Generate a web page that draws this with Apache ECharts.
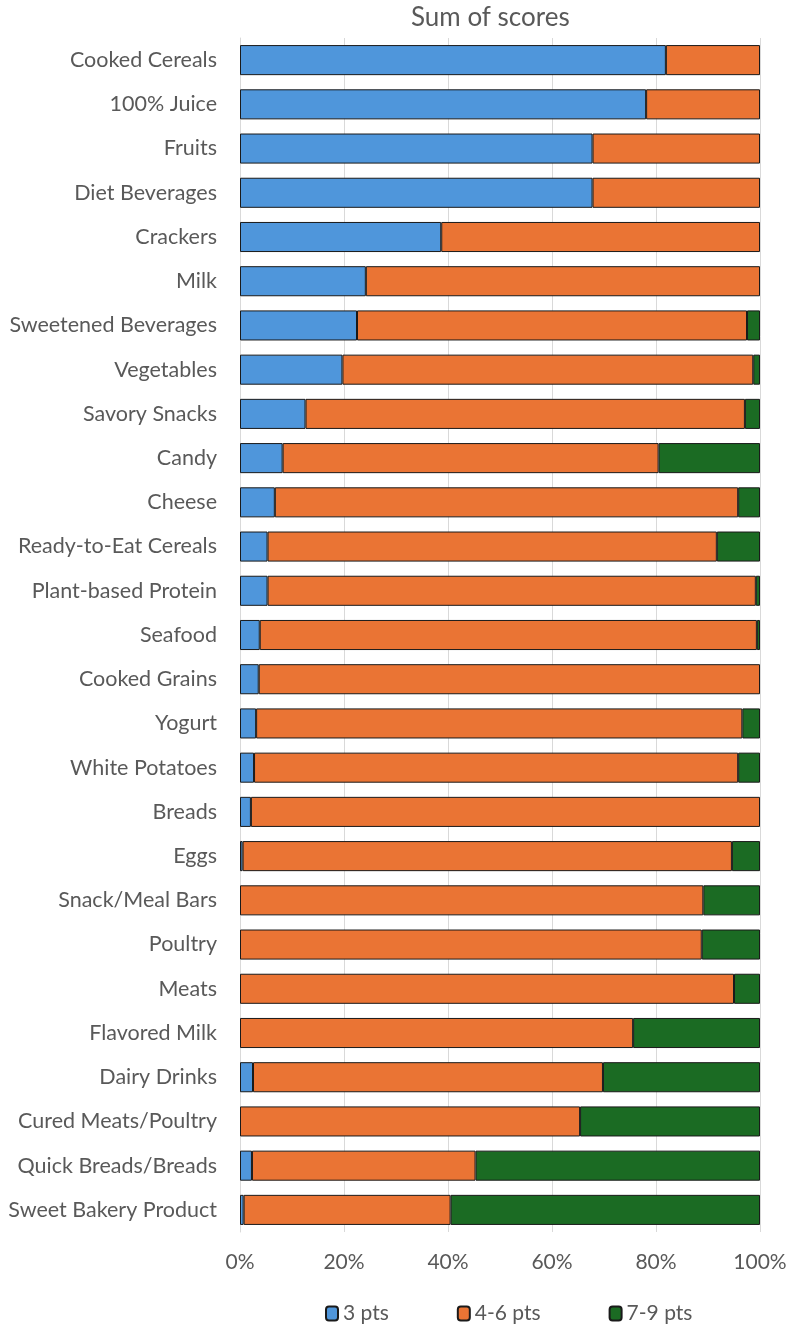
<!DOCTYPE html>
<html>
<head>
<meta charset="utf-8">
<script src="https://cdn.jsdelivr.net/npm/echarts@6/dist/echarts.min.js"></script>
<style>
  html, body { margin: 0; padding: 0; background: #fff; }
  #main { width: 792px; height: 1332px; }
</style>
</head>
<body>
<div id="main"></div>
<script>
// categories, top to bottom
var categories = ['Cooked Cereals', '100% Juice', 'Fruits', 'Diet Beverages', 'Crackers', 'Milk',
  'Sweetened Beverages', 'Vegetables', 'Savory Snacks', 'Candy', 'Cheese', 'Ready-to-Eat Cereals',
  'Plant-based Protein', 'Seafood', 'Cooked Grains', 'Yogurt', 'White Potatoes', 'Breads', 'Eggs',
  'Snack/Meal Bars', 'Poultry', 'Meats', 'Flavored Milk', 'Dairy Drinks', 'Cured Meats/Poultry',
  'Quick Breads/Breads', 'Sweet Bakery Product'];

// share of each score band, in percent
var pts3 = [81.9, 78.1, 67.8, 67.8, 38.7, 24.2, 22.5, 19.7, 12.6, 8.2, 6.7, 5.3, 5.3, 3.8, 3.6, 3.1,
  2.7, 2.1, 0.5, 0, 0, 0, 0, 2.5, 0, 2.3, 0.7];
var pts46 = [18.1, 21.9, 32.2, 32.2, 61.3, 75.8, 75.0, 79.0, 84.5, 72.3, 89.1, 86.4, 93.9, 95.6, 96.4, 93.5,
  93.1, 97.9, 94.1, 89.1, 88.8, 95.0, 75.6, 67.3, 65.4, 43.0, 39.8];
var pts79 = [0, 0, 0, 0, 0, 0, 2.5, 1.3, 2.9, 19.5, 4.2, 8.3, 0.8, 0.6, 0, 3.4,
  4.2, 0, 5.4, 10.9, 11.2, 5.0, 24.4, 30.2, 34.6, 54.7, 59.5];

var xTicks = [0, 20, 40, 60, 80, 100];

var chart = echarts.init(document.getElementById('main'));
var font = 'Lato';

// zero shares are left out so no empty outlined sliver is drawn
function barSeries(name, data, color) {
  return {
    name: name,
    type: 'bar',
    stack: 'total',
    data: data.map(function (v) { return v > 0 ? v : '-'; }),
    barCategoryGap: '32%',
    itemStyle: { color: color, borderColor: '#1a1a1a', borderWidth: 1 },
    emphasis: { disabled: true }
  };
}

var option = {
  animation: false,
  title: {
    text: 'Sum of scores',
    left: 406,
    top: 0,
    textStyle: { fontFamily: font, fontSize: 26, fontWeight: 'normal', color: '#595959' }
  },
  legend: {
    top: 1298,
    left: 320,
    itemWidth: 12,
    itemHeight: 14,
    itemGap: 68,
    textStyle: { fontFamily: font, fontSize: 21, color: '#595959' },
    data: ['3 pts', '4-6 pts', '7-9 pts']
  },
  grid: { left: 240, right: 32, top: 38, bottom: 100 },
  xAxis: {
    type: 'value',
    min: 0,
    max: 100,
    interval: 20,
    axisLine: { show: false },
    axisTick: { show: false },
    splitLine: { lineStyle: { color: '#d9d9d9' } },
    axisLabel: {
      fontFamily: font, fontSize: 21, color: '#595959', margin: 20,
      formatter: function (v) { return xTicks.indexOf(v) >= 0 ? v + '%' : ''; }
    }
  },
  yAxis: {
    type: 'category',
    inverse: true,
    data: categories,
    axisLine: { lineStyle: { color: '#d9d9d9' } },
    axisTick: { show: false },
    axisLabel: { fontFamily: font, fontSize: 21.5, color: '#595959', margin: 23 }
  },
  series: [
    barSeries('3 pts', pts3, '#4f96db'),
    barSeries('4-6 pts', pts46, '#ea7434'),
    barSeries('7-9 pts', pts79, '#1b6b23')
  ]
};

chart.setOption(option);
</script>
</body>
</html>
